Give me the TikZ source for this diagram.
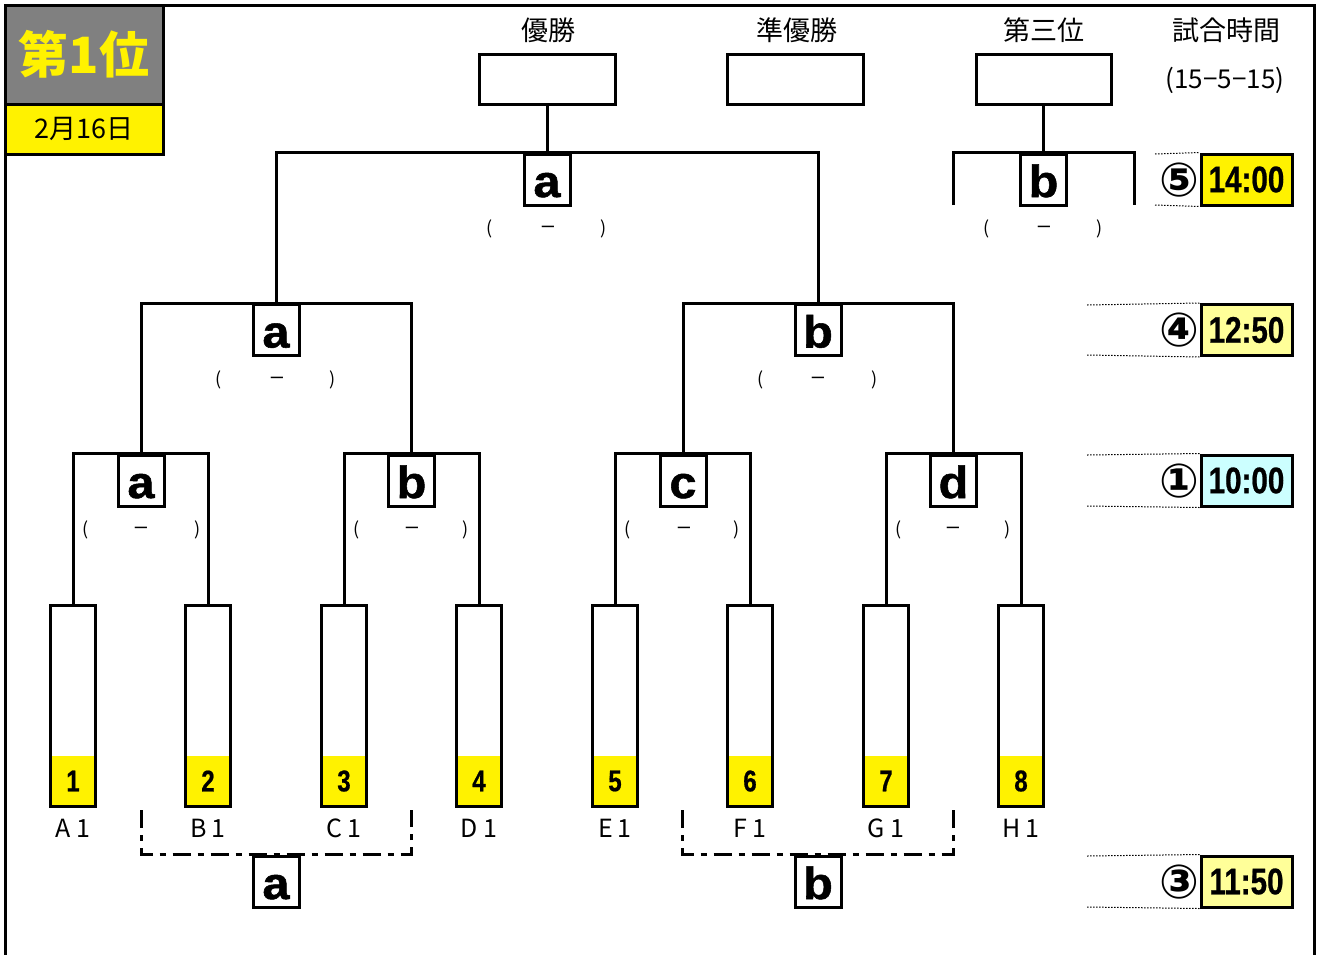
\documentclass[tikz,border=0pt]{standalone}
\usepackage{fontspec}
\setmainfont{Noto Sans CJK JP}
\newfontfamily\latinb{Liberation Sans}
\newfontfamily\heavyb[FakeBold=1.2,FakeStretch=1.08]{Liberation Sans}
\newfontfamily\narrowb[FakeStretch=0.8,FakeBold=0.6]{Liberation Sans}
\newfontfamily\circfont{DejaVu Sans}
\definecolor{titlegray}{HTML}{808080}
\definecolor{lightyel}{HTML}{FFFF99}
\definecolor{lightcyan}{HTML}{CCFFFF}
\tikzset{
  br/.style={line width=3pt},
  frame/.style={line width=3pt},
  lbl/.style={draw, line width=3pt, minimum width=46pt, minimum height=51pt, inner sep=0pt,
    text height=35pt, text depth=0pt, font=\heavyb\bfseries\fontsize{45}{45}\selectfont},
  headbox/.style={draw, line width=3pt, minimum width=136pt, minimum height=50pt, inner sep=0pt},
  headtxt/.style={font=\fontsize{27}{30}\selectfont},
  team/.style={draw, line width=3pt, minimum width=45pt, minimum height=201pt, inner sep=0pt},
  seed/.style={fill=yellow, minimum width=45pt, minimum height=50pt, inner sep=0pt,
    font=\narrowb\bfseries\fontsize{30}{30}\selectfont},
  tname/.style={font=\fontsize{25}{25}\selectfont},
  par/.style={font=\fontsize{18}{18}\selectfont, inner sep=0pt},
  scoredash/.style={font=\latinb\fontsize{22}{22}\selectfont, inner sep=0pt},
  tbox/.style={draw, line width=3pt, minimum width=91pt, minimum height=51pt, inner sep=0pt,
    font=\narrowb\bfseries\fontsize{37}{37}\selectfont},
  circ/.style={font=\circfont\bfseries\fontsize{47}{47}\selectfont, inner sep=0pt},
  hair/.style={line width=1pt, dash pattern=on 1.5pt off 1.5pt},
  dd/.style={line width=3pt, dash pattern=on 18pt off 7pt on 6pt off 7pt},
}
\begin{document}
\begin{tikzpicture}[x=1pt,y=-1pt]
\useasboundingbox (0,0) rectangle (1317,954);
% outer frame
\draw[frame] (5,956) -- (5,5) -- (1314,5) -- (1314,956);
% title
\node[draw, line width=3pt, fill=titlegray, minimum width=158pt, minimum height=99pt, inner sep=0pt,
  text=yellow, font=\bfseries\fontsize{50}{50}\selectfont] (title) at (84,54.5) {第1位};
\node[draw, line width=3pt, fill=yellow, minimum width=158pt, minimum height=50pt, inner sep=0pt,
  font=\fontsize{27}{27}\selectfont] (date) at (84,129) {2月16日};
% headers
\node[headtxt] (h1) at (548,30) {優勝};
\node[headtxt] (h2) at (797,30) {準優勝};
\node[headtxt] (h3) at (1044,30) {第三位};
\node[headtxt] (h4) at (1226,30) {試合時間};
\node[font=\fontsize{26}{26}\selectfont] (h5) at (1225,80) {(15−5−15)};
\node[headbox] (win) at (547,79) {};
\node[headbox] (runner) at (795,79) {};
\node[headbox, minimum width=135pt] (third) at (1043.5,79) {};
% teams
\foreach \nm/\x/\n/\la/\lb in {tA/73/1/A/1, tB/208/2/B/1, tC/344/3/C/1, tD/479/4/D/1,
                            tE/615/5/E/1, tF/750/6/F/1, tG/886/7/G/1, tH/1021/8/H/1}{
  \node[seed] (s\nm) at (\x,781) {\n};
  \node[team] (\nm) at (\x,705.5) {};
  \node[tname] (n\nm) at (\x,828) {\la\hspace{5pt}\lb};
}
% match boxes
\node[lbl] (qa) at (141,480.5) {a};
\node[lbl] (qb) at (411.5,480.5) {b};
\node[lbl] (qc) at (683,480.5) {c};
\node[lbl] (qd) at (953.5,480.5) {d};
\node[lbl] (sa) at (276,330) {a};
\node[lbl] (sb) at (818,330) {b};
\node[lbl] (fa) at (547,179.5) {a};
\node[lbl] (fb) at (1043.5,179.5) {b};
\node[lbl] (ba) at (276,881.5) {a};
\node[lbl] (bb) at (818,881.5) {b};
% bracket lines
\draw[br] (tA.north) |- (qa.north) -| (tB.north);
\draw[br] (tC.north) |- (qb.north) -| (tD.north);
\draw[br] (tE.north) |- (qc.north) -| (tF.north);
\draw[br] (tG.north) |- (qd.north) -| (tH.north);
\draw[br] (qa.north) |- (sa.north) -| (qb.north);
\draw[br] (qc.north) |- (sb.north) -| (qd.north);
\draw[br] (sa.north) |- (fa.north) -| (sb.north);
\draw[br] (fa.north) -- (win.south);
\coordinate (tl) at (953,205);
\coordinate (tr) at (1134,205);
\draw[br] (tl) |- (fb.north) -| (tr);
\draw[br] (fb.north) -- (third.south);
% consolation dashed brackets
\coordinate (dl1) at (141,810);
\coordinate (dr1) at (411,810);
\coordinate (dl2) at (682,810);
\coordinate (dr2) at (953,810);
\draw[dd] (dl1) |- (ba.north) -| (dr1);
\draw[dd] (dl2) |- (bb.north) -| (dr2);
% score placeholders
\foreach \nm/\xl/\xc/\xr/\y in {pf/490/548/604/229, pt/987/1044/1100/229,
   psa/219/277/333/380, psb/761/818/875/380,
   pqa/86/141/198/530, pqb/357/412/466/530, pqc/628/684/737/530, pqd/899/953/1008/530}{
  \node[par] (\nm l) at (\xl,\y) {(};
  \node[scoredash] (\nm c) at (\xc,\y) {–};
  \node[par] (\nm r) at (\xr,\y) {)};
}
% times
\node[tbox, fill=yellow] (t5) at (1246.5,179.5) {14:00};
\node[tbox, fill=lightyel] (t4) at (1246.5,330) {12:50};
\node[tbox, fill=lightcyan] (t1) at (1246.5,480.5) {10:00};
\node[tbox, fill=lightyel] (t3) at (1246.5,881.5) {11:50};
\node[circ] (c5) at (1179,180) {⑤};
\node[circ] (c4) at (1179,330) {④};
\node[circ] (c1) at (1179,481) {①};
\node[circ] (c3) at (1179,882) {③};
\coordinate (h5a) at (1155,154);
\coordinate (h5b) at (1155,205);
\coordinate (h4a) at (1087,305);
\coordinate (h4b) at (1087,355);
\coordinate (h1a) at (1087,455);
\coordinate (h1b) at (1087,506);
\coordinate (h3a) at (1087,856);
\coordinate (h3b) at (1087,907);
\draw[hair] (h5a) -- (t5.north west);
\draw[hair] (h5b) -- (t5.south west);
\draw[hair] (h4a) -- (t4.north west);
\draw[hair] (h4b) -- (t4.south west);
\draw[hair] (h1a) -- (t1.north west);
\draw[hair] (h1b) -- (t1.south west);
\draw[hair] (h3a) -- (t3.north west);
\draw[hair] (h3b) -- (t3.south west);
\end{tikzpicture}
\end{document}
